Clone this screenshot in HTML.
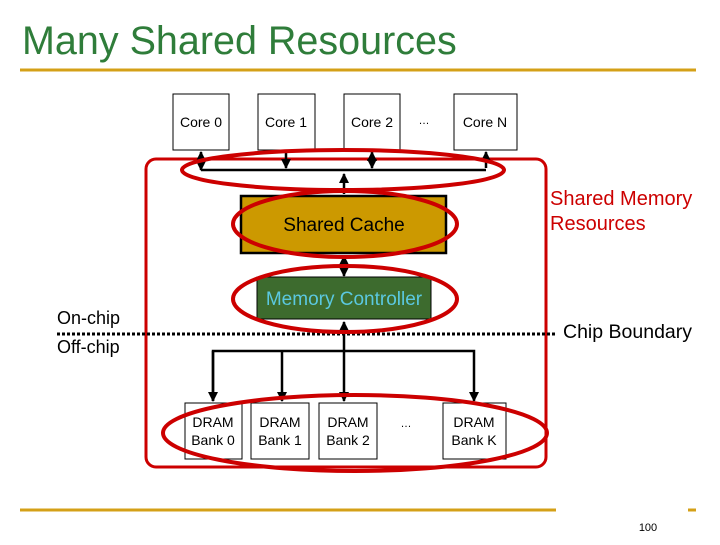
<!DOCTYPE html>
<html><head><style>
body{margin:0;width:720px;height:540px;background:#fff;overflow:hidden;font-family:"Liberation Sans",sans-serif}
</style></head><body>
<svg width="720" height="540" xmlns="http://www.w3.org/2000/svg" font-family="Liberation Sans, sans-serif">
<defs><marker id="a" viewBox="0 0 10 10" refX="9" refY="5" markerWidth="4" markerHeight="4" orient="auto-start-reverse"><path d="M0,0L10,5L0,10z" fill="#000"/></marker></defs>
<text x="22" y="54" font-size="39.5" fill="#2f7d3a">Many Shared Resources</text>
<line x1="20" y1="70" x2="696" y2="70" stroke="#d4a017" stroke-width="3"/>
<line x1="20" y1="510" x2="556" y2="510" stroke="#d4a017" stroke-width="3"/>
<line x1="688" y1="510" x2="696" y2="510" stroke="#d4a017" stroke-width="3"/>
<text x="648" y="531" font-size="11" text-anchor="middle">100</text>
<rect x="146" y="159" width="400" height="308" rx="10" fill="none" stroke="#c00" stroke-width="3"/>
<g fill="#fff" stroke="#000" stroke-width="1">
<rect x="173" y="94" width="56" height="56"/><rect x="258" y="94" width="57" height="56"/>
<rect x="344" y="94" width="56" height="56"/><rect x="454" y="94" width="63" height="56"/>
<rect x="185" y="403" width="57" height="56"/><rect x="251" y="403" width="58" height="56"/>
<rect x="319" y="403" width="58" height="56"/><rect x="443" y="403" width="63" height="56"/>
</g>
<g font-size="14" text-anchor="middle" fill="#000">
<text x="201" y="127">Core 0</text><text x="286" y="127">Core 1</text><text x="372" y="127">Core 2</text><text x="485" y="127">Core N</text>
<text x="424" y="124" font-size="11">…</text>
<text x="213" y="427">DRAM</text><text x="213" y="445">Bank 0</text>
<text x="280" y="427">DRAM</text><text x="280" y="445">Bank 1</text>
<text x="348" y="427">DRAM</text><text x="348" y="445">Bank 2</text>
<text x="474" y="427">DRAM</text><text x="474" y="445">Bank K</text>
<text x="406" y="427" font-size="11">…</text>
</g>
<g stroke="#000" stroke-width="2.5" fill="none">
<line x1="201" y1="170" x2="486" y2="170"/>
<line x1="201" y1="170" x2="201" y2="152" marker-end="url(#a)" marker-start="url(#a)"/>
<line x1="286" y1="150" x2="286" y2="168" marker-end="url(#a)"/>
<line x1="372" y1="152" x2="372" y2="168" marker-end="url(#a)" marker-start="url(#a)"/>
<line x1="486" y1="168" x2="486" y2="152" marker-end="url(#a)"/>
<line x1="344" y1="174" x2="344" y2="194" marker-start="url(#a)"/>
<line x1="344" y1="256" x2="344" y2="276" marker-start="url(#a)" marker-end="url(#a)"/>
<line x1="344" y1="322" x2="344" y2="401" marker-start="url(#a)" marker-end="url(#a)"/>
<path d="M213,401V351H474V401" marker-end="url(#a)"/>
<line x1="213" y1="351" x2="213" y2="401" marker-end="url(#a)"/>
<line x1="282" y1="351" x2="282" y2="401" marker-end="url(#a)"/>
</g>
<rect x="241" y="196" width="205" height="57" fill="#cc9900" stroke="#000" stroke-width="2.5"/>
<text x="344" y="231" font-size="19" text-anchor="middle">Shared Cache</text>
<rect x="257" y="277" width="174" height="42" fill="#3d6b2e" stroke="#000"/>
<text x="344" y="305" font-size="19" text-anchor="middle" fill="#5bc8e0">Memory Controller</text>
<line x1="57" y1="334" x2="556" y2="334" stroke="#000" stroke-width="3" stroke-dasharray="3,2"/>
<g fill="none" stroke="#c00" stroke-width="4">
<ellipse cx="343" cy="170" rx="161" ry="20"/>
<ellipse cx="345" cy="224" rx="112" ry="33"/>
<ellipse cx="345" cy="299" rx="112" ry="33"/>
<ellipse cx="355" cy="433" rx="192" ry="38"/>
</g>
<text x="550" y="205" font-size="20" fill="#c00">Shared Memory</text>
<text x="550" y="230" font-size="20" fill="#c00">Resources</text>
<text x="57" y="324" font-size="18">On-chip</text>
<text x="57" y="353" font-size="18">Off-chip</text>
<text x="563" y="338" font-size="19.5">Chip Boundary</text>
</svg>
</body></html>
